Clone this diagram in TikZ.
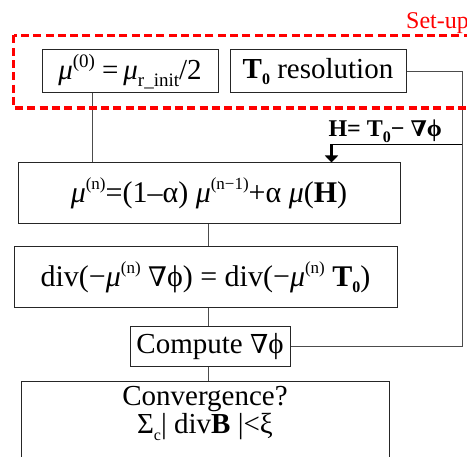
\documentclass[tikz,border=0pt]{standalone}
\usepackage{fontspec}
\setmainfont{Liberation Serif}
\newfontfamily\dvs[Scale=0.9]{DejaVu Serif}
\usetikzlibrary{arrows.meta}
\newcommand\spx[2][17]{\raisebox{0.42em}{\fontsize{#1}{#1}\selectfont #2}}
\newcommand\sbx[2][16]{\raisebox{-0.22em}{\fontsize{#1}{#1}\selectfont #2}}
\newcommand\nab{{\dvs ∇}}
\begin{document}
\begin{tikzpicture}[x=1pt,y=-1pt,
  box/.style={draw=black!85, line width=1pt, inner sep=0pt, font=\fontsize{29}{31}\selectfont},
  big/.style={font=\fontsize{30}{32}\selectfont},
  conn/.style={draw=black!70, line width=1pt},
  lbl/.style={inner sep=0pt, font=\fontsize{24}{26}\selectfont}]
\useasboundingbox (0,0) rectangle (467,457);
\clip (0,0) rectangle (467,457);
% boxes
\node[box, minimum width=176pt, minimum height=43pt] (mu0) at (130,71.5)
  {{\itshape μ}\spx[19]{(0)} =\,{\itshape μ}\sbx[19]{r\_init}/2};
\node[box, minimum width=176pt, minimum height=43pt] (T0) at (318,71.5)
  {\textbf{T\sbx{0}} resolution};
\node[box, big, minimum width=382pt, minimum height=61pt] (mun) at (209,193.5)
  {{\itshape μ}\spx{(n)}=(1–α) {\itshape μ}\spx{(n−1)}+α {\itshape μ}(\textbf{H})};
\node[box, big, minimum width=383pt, minimum height=61pt] (div) at (205.5,277.5)
  {div(−{\itshape μ}\spx{(n)} \nab ϕ) = div(−{\itshape μ}\spx{(n)} \textbf{T\sbx{0}})};
\node[box, minimum width=160pt, minimum height=40pt] (comp) at (210,347)
  {Compute \nab ϕ};
\node[box, minimum width=368pt, minimum height=140pt, anchor=north] (conv) at (205,381) {};
\node[box, draw=none, align=center, anchor=north, font=\fontsize{29}{28}\selectfont] (convtxt) at (205,386)
  {Convergence?\\ Σ\sbx{c}| div\textbf{B} |<ξ};
% connectors
\coordinate (ax) at (208,0);
\coordinate (rt) at (462,0);
\coordinate (m0b) at ([xshift=-38pt]mu0.south);
\draw[conn] (m0b) -- (m0b |- mun.north);
\draw[conn] (ax |- mun.south) -- (ax |- div.north);
\draw[conn] (ax |- div.south) -- (ax |- comp.north);
\draw[conn] (ax |- comp.south) -- (ax |- conv.north);
\draw[conn] (T0.east) -- (T0.east -| rt) -- (rt |- comp.east) -- (comp.east);
\coordinate (hR) at (462,144.5);
\coordinate (hL) at (331.5,144.5);
\draw[draw=black, line width=1.3pt] (hR) -- (hL);
\draw[line width=2.5pt, -{Triangle[width=13pt,length=7pt]}] (hL) -- (hL |- mun.north);
\node[lbl, anchor=base east] (hlabel) at (442,137) {\textbf{H= T\sbx{0}− {\dvs\bfseries ∇}ϕ}};
% set-up frame
\draw[red, line width=3.5pt, dash pattern=on 8pt off 4.3pt] (13.7,35.5) rectangle (490,108);
\node[lbl, red, anchor=base west] (setup) at (406,29) {Set-up};
\end{tikzpicture}
\end{document}
